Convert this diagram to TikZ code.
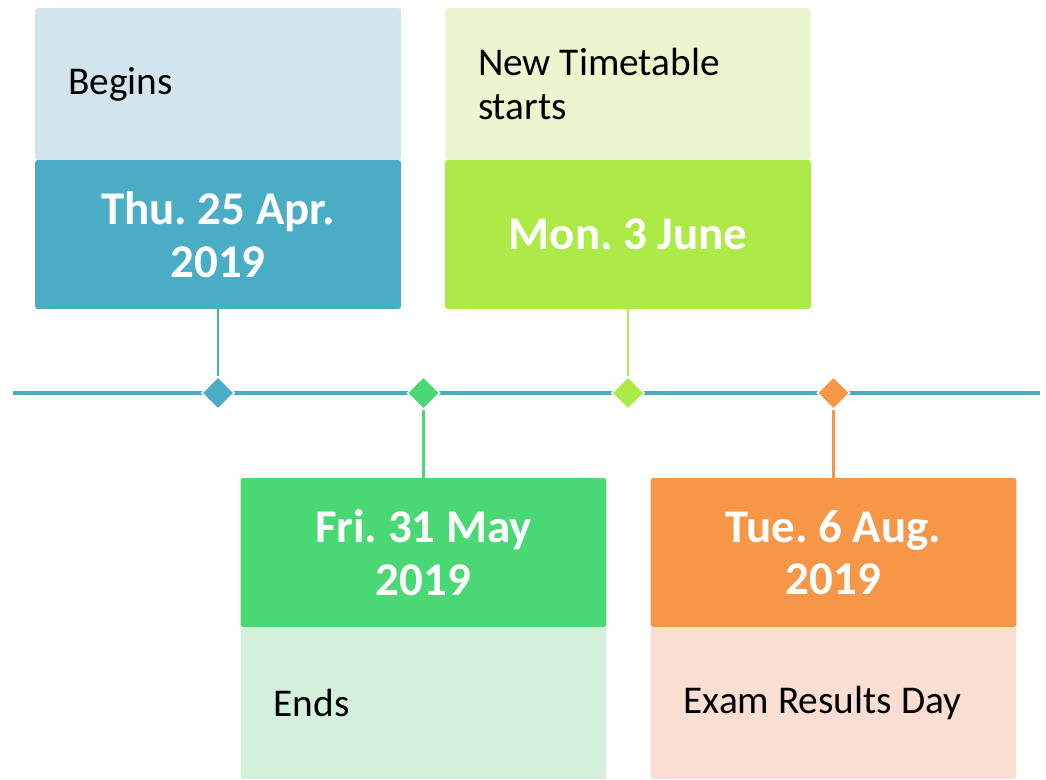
\documentclass[tikz,border=0pt]{standalone}
\usepackage{fontspec}
\setmainfont{Carlito}
\usepackage{xcolor}
\usetikzlibrary{shapes.geometric}

\definecolor{tealdark}{HTML}{4BACC6}
\definecolor{teallight}{HTML}{D3E5EC}
\definecolor{greendark}{HTML}{4AD874}
\definecolor{greenlight}{HTML}{D3F0DA}
\definecolor{limedark}{HTML}{ADEA48}
\definecolor{limelight}{HTML}{EBF6CF}
\definecolor{orangedark}{HTML}{F79646}
\definecolor{orangelight}{HTML}{FBDED2}

\begin{document}
\frenchspacing
\begin{tikzpicture}[x=0.02cm, y=-0.02cm,
    datebox/.style={rectangle, rounded corners=1.5pt, minimum width=7.32cm, minimum height=2.98cm,
        inner sep=0pt, align=center, text=white, font=\fontsize{26.7}{30}\selectfont\bfseries},
    notebox/.style={rectangle, rounded corners=1.5pt, text width=6.0cm, inner xsep=0.66cm,
        inner ysep=0pt, minimum height=3.04cm, align=flush left, font=\fontsize{22.4}{25}\selectfont},
    gem/.style={diamond, draw=white, line width=0.8pt, minimum width=0.66cm, minimum height=0.66cm, inner sep=0pt},
    link/.style={line width=1.3pt}]
    \useasboundingbox (0,0) rectangle (1046,779);

    % time line
    \coordinate (tl) at (13,393);
    \coordinate (tr) at (1040,393);
    \draw[tealdark, line width=2.8pt] (tl) -- (tr);

    % events above the line
    \node[datebox, fill=tealdark] (d1) at (218,234.5) {Thu. 25 Apr.\\2019};
    \node[notebox, fill=teallight] (n1) at (218,84) {Begins};

    \node[datebox, fill=limedark] (d3) at (628,234.5) {Mon. 3 June};
    \node[notebox, fill=limelight] (n3) at (628,84) {New Timetable\\starts};

    % events below the line
    \node[datebox, fill=greendark] (d2) at (423.5,552.5) {Fri. 31 May\\2019};
    \node[notebox, fill=greenlight] (n2) at (423.5,703) {Ends};

    \node[datebox, fill=orangedark] (d4) at (833.5,552.5) {Tue. 6 Aug.\\2019};
    \node[notebox, fill=orangelight] (n4) at (833.5,703) {Exam Results Day};

    % markers
    \node[gem, fill=tealdark] (m1) at (218,393) {};
    \node[gem, fill=greendark] (m2) at (423.5,393) {};
    \node[gem, fill=limedark] (m3) at (628,393) {};
    \node[gem, fill=orangedark] (m4) at (833.5,393) {};

    \draw[link, tealdark] (d1) -- (m1);
    \draw[link, greendark] (m2) -- (d2);
    \draw[link, limedark] (d3) -- (m3);
    \draw[link, orangedark] (m4) -- (d4);
\end{tikzpicture}
\end{document}
